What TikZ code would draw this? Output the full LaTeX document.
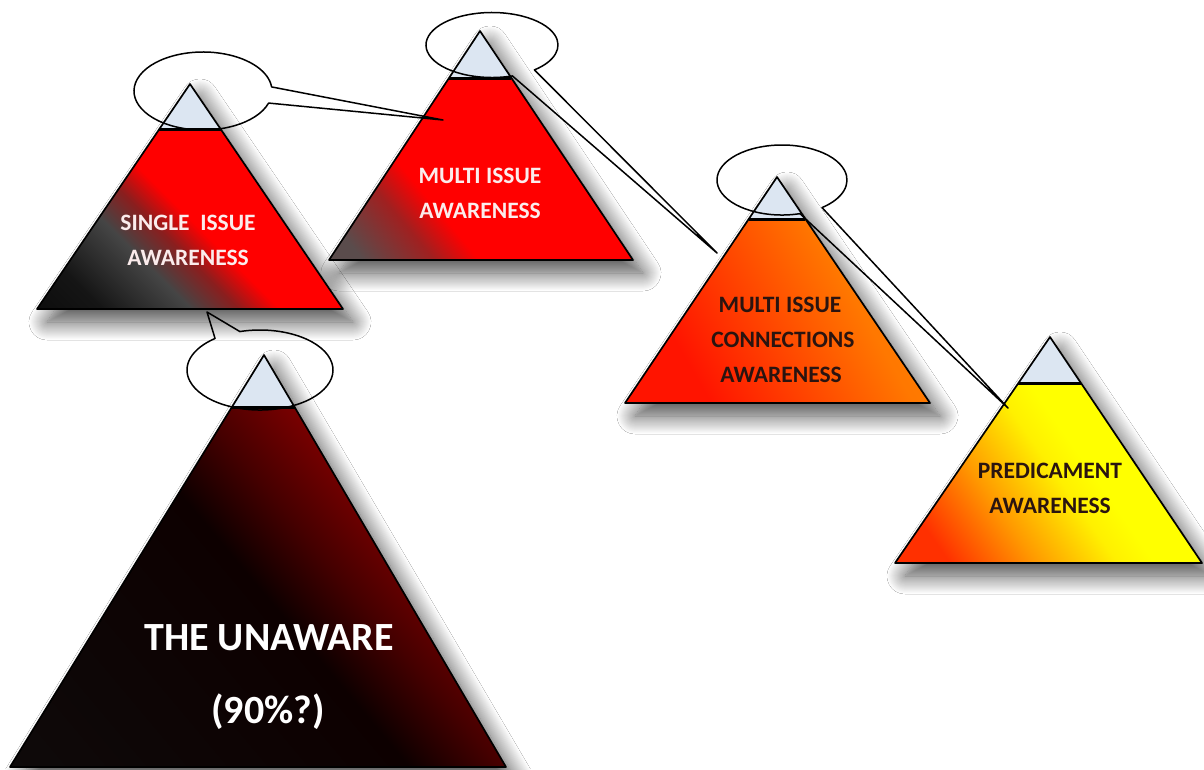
\documentclass[tikz,border=0pt]{standalone}
\usepackage{fontspec}
\setmainfont{Carlito}
\usetikzlibrary{calc,shadows.blur}

\definecolor{capblue}{HTML}{DCE6F2}
\definecolor{lighttext}{HTML}{FBECEC}
\definecolor{darktext}{HTML}{2A1410}
\definecolor{pureRed}{HTML}{FF0000}
\definecolor{gA}{HTML}{151515}
\definecolor{gB}{HTML}{454545}
\definecolor{gC}{HTML}{8A1E1E}
\definecolor{gD}{HTML}{5A4C4C}
\definecolor{gE}{HTML}{A02020}
\definecolor{oA}{HTML}{FF1400}
\definecolor{oB}{HTML}{FF7800}
\definecolor{oC}{HTML}{FF8C00}
\definecolor{yA}{HTML}{FF3000}
\definecolor{yB}{HTML}{FF9A00}
\definecolor{yC}{HTML}{FFF000}
\definecolor{yD}{HTML}{FFFF00}
\definecolor{kA}{HTML}{0E0E0E}
\definecolor{kB}{HTML}{0D0000}
\definecolor{kC}{HTML}{450000}
\definecolor{kD}{HTML}{7C0000}

\pgfdeclarehorizontalshading{shOne}{100bp}{color(0bp)=(black); color(24bp)=(gA); color(37bp)=(gB); color(44bp)=(gC); color(50bp)=(pureRed); color(100bp)=(pureRed)}
\pgfdeclarehorizontalshading{shTwo}{100bp}{color(0bp)=(gD); color(20bp)=(gD); color(31bp)=(gE); color(38bp)=(pureRed); color(100bp)=(pureRed)}
\pgfdeclarehorizontalshading{shThree}{100bp}{color(0bp)=(oA); color(30bp)=(oA); color(64bp)=(oB); color(100bp)=(oC)}
\pgfdeclarehorizontalshading{shFour}{100bp}{color(0bp)=(yA); color(24bp)=(yA); color(38bp)=(yB); color(51bp)=(yC); color(57bp)=(yD); color(100bp)=(yD)}
\pgfdeclarehorizontalshading{shFive}{100bp}{color(0bp)=(kA); color(50bp)=(kB); color(58bp)=(kC); color(67bp)=(kD); color(100bp)=(kD)}

% define pyramid coordinates: name, apex x, apex y, base y, left x, right x, cap y
\newcommand\pyrdef[7]{%
  \coordinate (#1-apex) at (#2,#3);
  \coordinate (#1-bl) at (#5,#4);
  \coordinate (#1-br) at (#6,#4);
  \pgfmathsetmacro\pyrt{(#7-#3)/(#4-#3)}%
  \coordinate (#1-cl) at ($(#1-apex)!\pyrt!(#1-bl)$);
  \coordinate (#1-cr) at ($(#1-apex)!\pyrt!(#1-br)$);
}
\newcommand\pyrshadow[1]{%
  \path[softshadow] (#1-apex) -- (#1-bl) -- (#1-br) -- cycle;
}
% name, shading, angle, band colour
\newcommand\pyrbody[4]{%
  \path[shading=#2, shading angle=#3] (#1-cl) -- (#1-bl) -- (#1-br) -- (#1-cr) -- cycle;
  \draw[tri] (#1-cl) -- (#1-bl) -- (#1-br) -- (#1-cr);
  \filldraw[capfill] (#1-apex) -- (#1-cl) -- (#1-cr) -- cycle;
  \draw[line width=3pt, draw=#4] (#1-cl) -- (#1-cr);
}
% centre x, centre y, rx, ry, start, end, tip
\newcommand\callout[7]{%
  \draw[bubble] ({#1+#3*cos(#5)},{#2+#4*sin(#5)}) arc[start angle=#5, end angle=#6, x radius=#3, y radius=#4] -- (#7) -- cycle;
}

\begin{document}
\begin{tikzpicture}[x=1pt,y=-1pt, line join=round,
  tri/.style={draw=black, line width=1.7pt},
  capfill/.style={fill=capblue, draw=black, line width=1.7pt},
  bubble/.style={draw=black, line width=1.5pt},
  lbl/.style={font=\bfseries\fontsize{23.5}{23.5}\selectfont, inner sep=0pt, anchor=base},
  lightlbl/.style={lbl, text=lighttext},
  darklbl/.style={lbl, text=darktext},
  biglbl/.style={font=\bfseries\fontsize{40}{40}\selectfont, inner sep=0pt, anchor=base, text=white},
  softshadow/.style={blur shadow={shadow xshift=10pt, shadow yshift=-13pt, shadow blur radius=18pt, shadow opacity=70, shadow blur steps=18}}
]
\useasboundingbox (0,0) rectangle (1204,769);
\fill[white] (0,0) rectangle (1204,769);

\pyrdef{one}{190}{84}{309}{37}{343}{129}
\pyrdef{two}{480}{31}{260}{329}{633}{78}
\pyrdef{three}{777}{177}{403}{625}{930}{219}
\pyrdef{four}{1050}{337}{563}{895}{1202}{383}
\pyrdef{five}{264}{355}{767}{10}{506}{407}

\pyrshadow{one}
\pyrshadow{two}
\pyrshadow{three}
\pyrshadow{four}
\pyrshadow{five}

\pyrbody{one}{shOne}{45}{black}
\pyrbody{two}{shTwo}{40}{black}
\pyrbody{three}{shThree}{30}{black}
\pyrbody{four}{shFour}{35}{black}
\pyrbody{five}{shFive}{40}{black}

% callout tips
\coordinate (tipone) at (443,120);
\coordinate (tiptwo) at (717,253);
\coordinate (tipthree) at (1008,408);
\coordinate (tipfive) at (207,312);

\callout{203}{91}{69}{39}{18}{354}{tipone}
\callout{492}{45}{66}{32.5}{72}{410}{tiptwo}
\callout{782}{180}{65}{35}{74}{412}{tipthree}
\callout{260}{370}{73}{40}{254}{592}{tipfive}

% labels
\node[lightlbl] (l1a) at (188,230) {SINGLE\hspace{0.45em}ISSUE};
\node[lightlbl] (l1b) at (188,265) {AWARENESS};
\node[lightlbl] (l2a) at (480,183) {MULTI ISSUE};
\node[lightlbl] (l2b) at (480,218) {AWARENESS};
\node[darklbl] (l3a) at (780,312) {MULTI ISSUE};
\node[darklbl] (l3b) at (783,347) {CONNECTIONS};
\node[darklbl] (l3c) at (781,382) {AWARENESS};
\node[darklbl] (l4a) at (1050,478) {PREDICAMENT};
\node[darklbl] (l4b) at (1050,513) {AWARENESS};
\node[biglbl] (l5a) at (269,650) {THE UNAWARE};
\node[biglbl] (l5b) at (268,723) {(90\%?)};
\end{tikzpicture}
\end{document}
